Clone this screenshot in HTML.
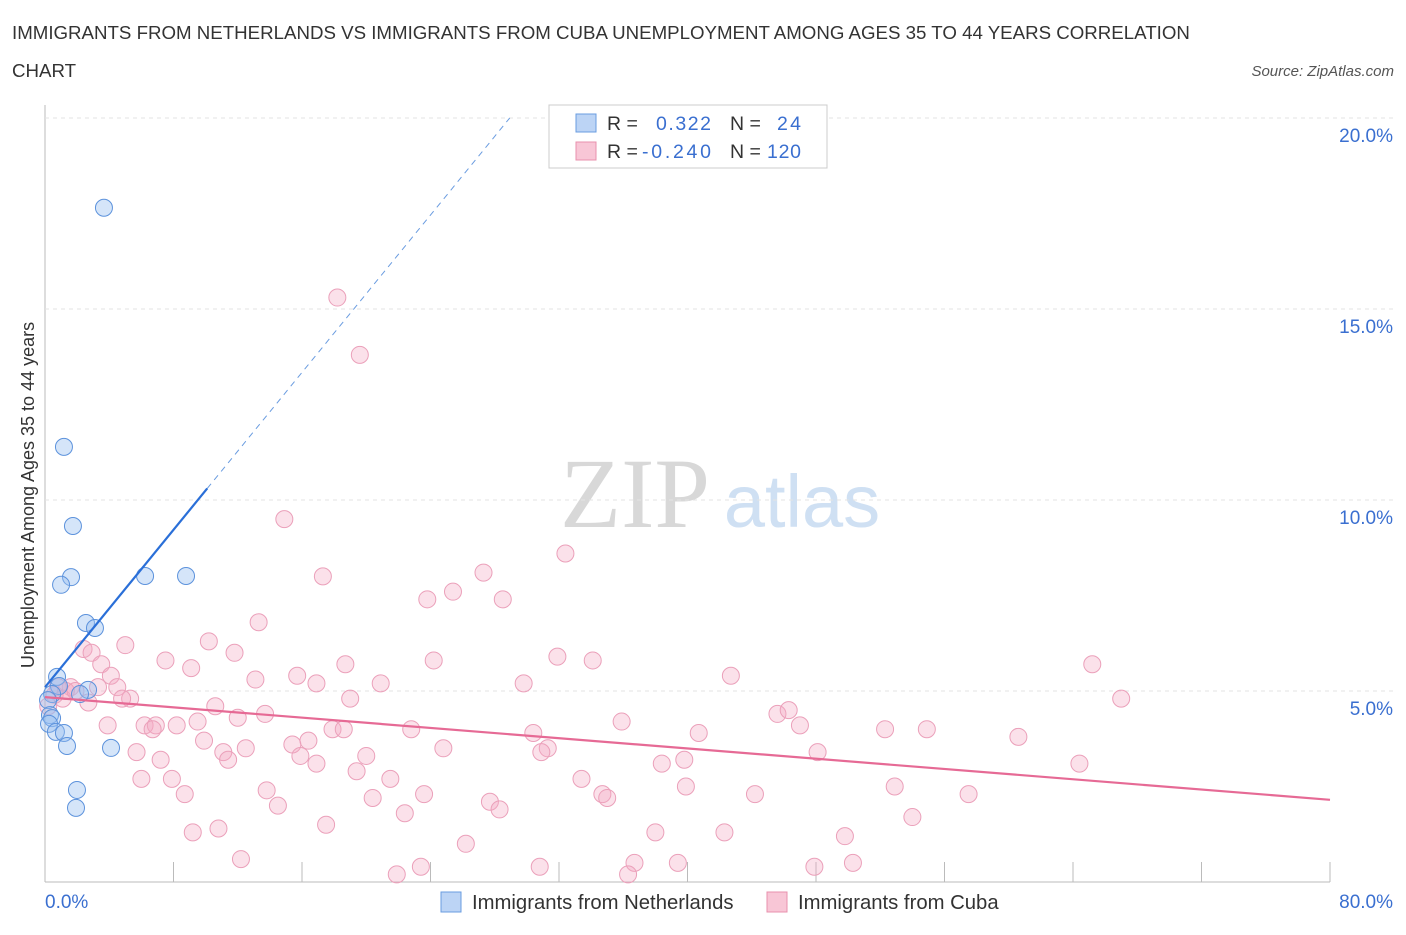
<!DOCTYPE html>
<html><head><meta charset="utf-8"><style>
body{margin:0;background:#fff;font-family:"Liberation Sans",sans-serif;}
#c{position:relative;width:1406px;height:930px;}
</style></head><body>
<div id="c">
<svg id="s" width="1406" height="930" xmlns="http://www.w3.org/2000/svg">
<text x="12" y="39" font-size="18.7" fill="#333">IMMIGRANTS FROM NETHERLANDS VS IMMIGRANTS FROM CUBA UNEMPLOYMENT AMONG AGES 35 TO 44 YEARS CORRELATION</text>
<text x="12" y="77" font-size="18.7" fill="#333">CHART</text>
<text x="1394" y="76" font-size="15" fill="#555" font-style="italic" text-anchor="end">Source: ZipAtlas.com</text>
<text x="635" y="527" font-size="100" fill="#d8d8d8" font-family="Liberation Serif" text-anchor="middle">ZIP</text>
<text x="802" y="527" font-size="74" fill="#cfe0f3" text-anchor="middle">atlas</text>
<text transform="translate(34,495) rotate(-90)" font-size="18" fill="#333" text-anchor="middle">Unemployment Among Ages 35 to 44 years</text>
<g id="grid"></g><g id="marks"></g>
<rect x="549" y="105" width="278" height="63" fill="#fff" stroke="#ccc"/>
<rect x="576" y="114" width="20" height="18" fill="#bcd4f5" stroke="#6a9ce0"/>
<rect x="576" y="142" width="20" height="18" fill="#f8c6d6" stroke="#e890ad"/>
<g font-size="19.5" fill="#333">
<text x="607" y="130">R =</text><text x="656" y="130" fill="#3a6fd0" textLength="55">0.322</text>
<text x="730" y="130">N =</text><text x="777" y="130" fill="#3a6fd0" textLength="24">24</text></g>
<g font-size="19.5" fill="#333">
<text x="607" y="158">R =</text><text x="642" y="158" fill="#3a6fd0" textLength="69">-0.240</text>
<text x="730" y="158">N =</text><text x="767" y="158" fill="#3a6fd0" textLength="34">120</text></g>
<rect x="441" y="892" width="20" height="20" fill="#bcd4f5" stroke="#6a9ce0"/>
<text x="472" y="909" font-size="20.3" fill="#333">Immigrants from Netherlands</text>
<rect x="767" y="892" width="20" height="20" fill="#f8c6d6" stroke="#e890ad"/>
<text x="798" y="909" font-size="20.3" fill="#333">Immigrants from Cuba</text>
</svg></div>
<script>
const xTicks=[0,80];
const yTicks=[5,10,15,20];
const nlX=[3.67,1.18,1.74,1.62,1.0,6.23,8.78,2.55,3.11,0.75,0.87,2.68,2.18,0.44,0.19,0.31,0.44,0.25,0.68,1.18,1.37,4.11,1.99,1.93];
const nlY=[17.65,11.39,9.32,7.98,7.78,8.01,8.01,6.78,6.65,5.37,5.13,5.03,4.92,4.92,4.76,4.37,4.29,4.14,3.93,3.90,3.56,3.51,2.41,1.94];
const cuX=[18.2,19.6,14.9,32.4,17.3,27.3,25.4,23.8,28.5,13.3,10.2,5.0,11.8,2.4,2.9,7.5,3.5,9.1,31.9,34.1,24.2,18.7,65.2,4.1,15.7,13.1,16.9,42.7,20.9,29.8,3.3,4.5,1.6,0.8,5.3,4.8,19.0,67.0,2.7,10.6,1.1,13.7,45.6,46.3,12.0,9.5,3.9,6.2,6.9,8.2,17.9,18.6,22.8,35.9,47.0,52.3,54.9,40.7,6.7,30.4,60.6,9.9,15.4,16.4,12.5,11.1,24.8,31.3,30.9,15.9,5.7,20.0,11.4,7.2,16.9,48.1,39.8,38.4,64.4,19.4,6.0,7.9,21.5,33.4,13.8,39.9,52.9,8.7,23.6,34.7,35.0,44.2,57.5,14.5,20.4,27.7,28.3,22.4,54.0,17.5,10.8,9.2,38.0,42.3,49.8,26.2,12.2,36.7,39.4,50.3,30.8,47.9,23.4,21.9,36.3,0.6,1.3,0.2,1.9];
const cuY=[15.3,13.8,9.5,8.6,8.0,8.1,7.6,7.4,7.4,6.8,6.3,6.2,6.0,6.1,6.0,5.8,5.7,5.6,5.9,5.8,5.8,5.7,5.7,5.4,5.4,5.3,5.2,5.4,5.2,5.2,5.1,5.1,5.1,5.1,4.8,4.8,4.8,4.8,4.7,4.6,4.8,4.4,4.4,4.5,4.3,4.2,4.1,4.1,4.1,4.1,4.0,4.0,4.0,4.2,4.1,4.0,4.0,3.9,4.0,3.9,3.8,3.7,3.6,3.7,3.5,3.4,3.5,3.5,3.4,3.3,3.4,3.3,3.2,3.2,3.1,3.4,3.2,3.1,3.1,2.9,2.7,2.7,2.7,2.7,2.4,2.5,2.5,2.3,2.3,2.3,2.2,2.3,2.3,2.0,2.2,2.1,1.9,1.8,1.7,1.5,1.4,1.3,1.3,1.3,1.2,1.0,0.6,0.5,0.5,0.5,0.4,0.4,0.4,0.2,0.2,4.9,5.0,4.6,5.0];
const nlTrend=[5.1,0.515];
const cuTrend=[4.84,-0.0336];
const X=v=>45+v/80*1285, Y=v=>882-v/5*191;
const NS="http://www.w3.org/2000/svg";
function mk(p,t,a){const e=document.createElementNS(NS,t);for(const k in a)e.setAttribute(k,a[k]);document.getElementById(p).appendChild(e);return e;}
let e=mk('grid','line',{x1:45,y1:105,x2:45,y2:882,stroke:'#bbb'});

e=mk('grid','line',{x1:45,y1:882,x2:1330,y2:882,stroke:'#bbb'});

for(let i=1;i<=10;i++){e=mk('grid','line',{x1:X(i*8),y1:862,x2:X(i*8),y2:882,stroke:'#bbb'});
}
yTicks.forEach(t=>{e=mk('grid','line',{x1:45,y1:Y(t),x2:1395,y2:Y(t),stroke:'#e3e3e3','stroke-dasharray':'4,4'});

e=mk('grid','text',{x:1393,y:Y(t)+24,'font-size':19,fill:'#3a6fd0','text-anchor':'end'});e.textContent=t.toFixed(1)+'%';
});
xTicks.forEach((t,i)=>{e=mk('grid','text',{x:i?1393:45,y:908,'font-size':19,fill:'#3a6fd0','text-anchor':i?'end':'start'});e.textContent=t.toFixed(1)+'%';
});
cuX.forEach((x,i)=>{e=mk('marks','circle',{cx:X(x),cy:Y(cuY[i]),r:8.5,fill:'rgba(244,170,195,0.35)',stroke:'#eba0ba','stroke-width':1});
});
nlX.forEach((x,i)=>{e=mk('marks','circle',{cx:X(x),cy:Y(nlY[i]),r:8.5,fill:'rgba(150,190,240,0.4)',stroke:'#5c92dc','stroke-width':1});
});
const xEnd=(20-nlTrend[0])/nlTrend[1];
e=mk('marks','line',{x1:X(10.1),y1:Y(nlTrend[0]+nlTrend[1]*10.1),x2:X(xEnd),y2:Y(20),stroke:'#6a9ce0','stroke-width':1,'stroke-dasharray':'6,5'});

e=mk('marks','line',{x1:X(0),y1:Y(nlTrend[0]),x2:X(10.1),y2:Y(nlTrend[0]+nlTrend[1]*10.1),stroke:'#2a6fd8','stroke-width':2.2});

e=mk('marks','line',{x1:X(0),y1:Y(cuTrend[0]),x2:X(80),y2:Y(cuTrend[0]+cuTrend[1]*80),stroke:'#e66a95','stroke-width':2.2});

</script>
</body></html>
